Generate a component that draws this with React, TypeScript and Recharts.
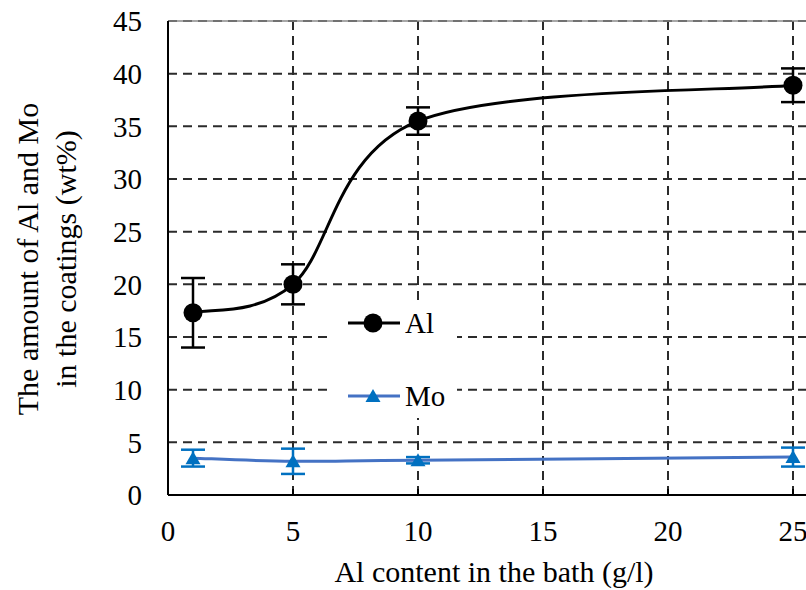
import React from 'react';
import { LineChart, Line, XAxis, YAxis, CartesianGrid, ErrorBar, Legend, ReferenceLine } from 'recharts';

const xValues = [1, 5, 10, 25];
const alValues = [17.3, 20.0, 35.5, 38.9];
const alErrors = [3.3, 1.9, 1.3, 1.6];
const moValues = [3.5, 3.2, 3.3, 3.6];
const moErrors = [0.8, 1.2, 0.3, 0.9];
const xTicks = [0, 5, 10, 15, 20, 25];
const yTicks = [0, 5, 10, 15, 20, 25, 30, 35, 40, 45];
const seriesNames = ['Al', 'Mo'];
const xTitle = 'Al content in the bath (g/l)';
const yTitleLines = ['The amount of Al and Mo', 'in the coatings (wt%)'];

const data = xValues.map((x, i) => ({
  x,
  al: alValues[i],
  alErr: alErrors[i],
  mo: moValues[i],
  moErr: moErrors[i],
}));

const FONT = '"Liberation Serif", "Times New Roman", serif';
const AL_COLOR = '#000000';
const MO_LINE = '#4472C4';
const MO_MARK = '#0070C0';

// Excel-like smoothed curve (Catmull-Rom through points)
const smoothCurve: any = (context: any) => {
  let pts: number[][] = [];
  return {
    areaStart() {},
    areaEnd() {},
    lineStart() { pts = []; },
    lineEnd() {
      const n = pts.length;
      if (!n) return;
      context.moveTo(pts[0][0], pts[0][1]);
      if (n === 1) return;
      for (let i = 0; i < n - 1; i++) {
        const p0 = pts[Math.max(i - 1, 0)];
        const p1 = pts[i];
        const p2 = pts[i + 1];
        const p3 = pts[Math.min(i + 2, n - 1)];
        const c1x = p1[0] + (p2[0] - p0[0]) / 6;
        const c1y = p1[1] + (p2[1] - p0[1]) / 6;
        const c2x = p2[0] - (p3[0] - p1[0]) / 6;
        const c2y = p2[1] - (p3[1] - p1[1]) / 6;
        context.bezierCurveTo(c1x, c1y, c2x, c2y, p2[0], p2[1]);
      }
    },
    point(x: number, y: number) { pts.push([+x, +y]); },
  };
};

const CircleDot = (props: any) => {
  const { cx, cy } = props;
  if (cx == null || cy == null) return null;
  return <circle cx={cx} cy={cy} r={9.5} fill={AL_COLOR} />;
};

const TriDot = (props: any) => {
  const { cx, cy } = props;
  if (cx == null || cy == null) return null;
  return <polygon points={`${cx},${cy - 7} ${cx - 7.5},${cy + 6} ${cx + 7.5},${cy + 6}`} fill={MO_MARK} />;
};

const XTick = (props: any) => {
  const { x, y, payload } = props;
  return (
    <g>
      <line x1={x} x2={x} y1={y} y2={y - 6} stroke="#000" strokeWidth={2} />
      <text x={x} y={y + 46} textAnchor="middle" fontFamily={FONT} style={{ fontFamily: FONT }} fontSize={29} fill="#000">{payload.value}</text>
    </g>
  );
};

const YTitle = () => {
  const cy = 259;
  const xs = [27, 65];
  return (
    <g>
      {yTitleLines.map((t, i) => (
        <text key={i} x={xs[i]} y={cy} transform={`rotate(-90, ${xs[i]}, ${cy})`} textAnchor="middle" dominantBaseline="central" fontFamily={FONT} style={{ fontFamily: FONT }} fontSize={30} fill="#000">{t}</text>
      ))}
    </g>
  );
};

const LegendContent = () => {
  const rows = [23, 96];
  return (
    <svg width={124} height={118} style={{ display: 'block', background: '#fff' }}>
      {seriesNames.map((name, i) => {
        const y = rows[i];
        return (
          <g key={name}>
            <line x1={15} x2={67} y1={y} y2={y} stroke={i === 0 ? AL_COLOR : MO_LINE} strokeWidth={3} />
            {i === 0 ? (
              <circle cx={40} cy={y} r={9.5} fill={AL_COLOR} />
            ) : (
              <polygon points={`40,${y - 7} 32.5,${y + 6} 47.5,${y + 6}`} fill={MO_MARK} />
            )}
            <text x={72} y={y} dominantBaseline="central" fontFamily={FONT} style={{ fontFamily: FONT }} fontSize={29} fill="#000">{name}</text>
          </g>
        );
      })}
    </svg>
  );
};

export default function App() {
  return (
    <div style={{ position: 'absolute', left: 0, top: 0, width: 806, height: 590, background: '#fff' }}>
      <LineChart width={806} height={590} data={data} margin={{ top: 21, right: 0, bottom: 0, left: 0 }}>
        <CartesianGrid stroke="#2b2b2b" strokeWidth={2} strokeDasharray="9 6" verticalValues={[5, 10, 15, 20, 25]} horizontalValues={[5, 10, 15, 20, 25, 30, 35, 40, 45]} />
        <ReferenceLine y={45} stroke="#8a8a8a" strokeWidth={1.5} />
        <XAxis
          type="number"
          dataKey="x"
          domain={[0, 25.52]}
          ticks={xTicks}
          allowDataOverflow
          height={95}
          axisLine={{ stroke: '#000', strokeWidth: 2 }}
          tickLine={false}
          tickSize={0}
          tickMargin={0}
          tick={<XTick />}
          interval={0}
          label={{ value: xTitle, position: 'insideBottom', offset: 8, dx: 7, fontFamily: FONT, fontSize: 30, fill: '#000', style: { fontFamily: FONT } }}
        />
        <YAxis
          type="number"
          domain={[0, 45]}
          ticks={yTicks}
          width={168}
          axisLine={{ stroke: '#000', strokeWidth: 2 }}
          tickLine={false}
          tickSize={0}
          tickMargin={26}
          interval={0}
          tick={{ fontFamily: FONT, fontSize: 29, fill: '#000', style: { fontFamily: FONT } }}
          label={<YTitle />}
        />
        <Legend
          layout="horizontal"
          verticalAlign="middle"
          align="center"
          content={<LegendContent />}
          wrapperStyle={{ position: 'absolute', left: 333, top: 300, width: 124, height: 118, background: '#fff' }}
        />
        <Line name={seriesNames[1]} dataKey="mo" type={smoothCurve} stroke={MO_LINE} strokeWidth={3} dot={<TriDot />} activeDot={false} isAnimationActive={false}>
          <ErrorBar dataKey="moErr" width={12} strokeWidth={2.5} stroke={MO_MARK} direction="y" />
        </Line>
        <Line name={seriesNames[0]} dataKey="al" type={smoothCurve} stroke={AL_COLOR} strokeWidth={3} dot={<CircleDot />} activeDot={false} isAnimationActive={false}>
          <ErrorBar dataKey="alErr" width={12} strokeWidth={2.5} stroke={AL_COLOR} direction="y" />
        </Line>
      </LineChart>
    </div>
  );
}
